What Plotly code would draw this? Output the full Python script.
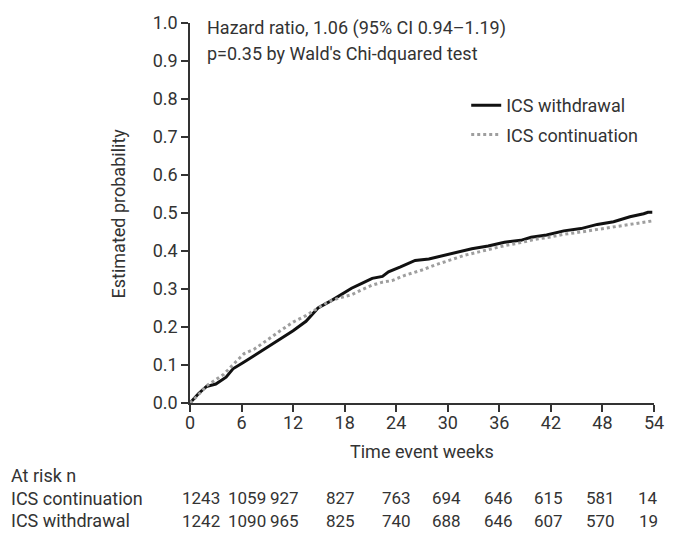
import plotly.graph_objects as go

# --- data ---
weeks_withdrawal = [0, 1.0, 1.9, 3.0, 4.2, 5.0, 6.3, 8.0, 9.2, 10.5, 12.0, 13.5, 14.9, 16.5, 17.8,
                    18.8, 20.0, 21.2, 22.4, 23.1, 24.5, 26.2, 27.8, 29.7, 31.2, 32.8, 34.7,
                    36.6, 38.5, 39.7, 41.5, 43.5, 45.5, 47.4, 49.3, 51.2, 52.8, 53.3, 53.8]
prob_withdrawal = [0, 0.025, 0.043, 0.050, 0.068, 0.090, 0.108, 0.132, 0.151, 0.168, 0.190, 0.215,
                   0.250, 0.270, 0.289, 0.302, 0.315, 0.328, 0.333, 0.345, 0.358, 0.375,
                   0.379, 0.389, 0.396, 0.406, 0.413, 0.423, 0.428, 0.436, 0.442, 0.453,
                   0.459, 0.470, 0.477, 0.490, 0.498, 0.502, 0.502]

weeks_continuation = [0, 1.0, 1.9, 3.9, 5.4, 6.3, 7.5, 9.2, 10.5, 12.0, 13.5, 14.9, 16.0, 17.3,
                      18.8, 20.0, 21.2, 22.4, 23.5, 25.0, 27.0, 28.5, 30.4, 32.0, 33.5, 35.0,
                      36.6, 38.5, 40.0, 42.0, 43.5, 45.5, 47.4, 49.5, 51.2, 53.0, 53.8]
prob_continuation = [0, 0.022, 0.045, 0.075, 0.110, 0.130, 0.142, 0.170, 0.190, 0.213, 0.230,
                     0.250, 0.265, 0.276, 0.285, 0.298, 0.310, 0.318, 0.322, 0.336, 0.350,
                     0.363, 0.378, 0.389, 0.397, 0.405, 0.414, 0.422, 0.430, 0.437, 0.444,
                     0.450, 0.457, 0.463, 0.469, 0.476, 0.479]

x_ticks = [0, 6, 12, 18, 24, 30, 36, 42, 48, 54]
y_ticks = [0.0, 0.1, 0.2, 0.3, 0.4, 0.5, 0.6, 0.7, 0.8, 0.9, 1.0]

risk_labels = ["ICS continuation", "ICS withdrawal"]
risk_continuation = ["1243", "1059", "927", "827", "763", "694", "646", "615", "581", "14"]
risk_withdrawal = ["1242", "1090", "965", "825", "740", "688", "646", "607", "570", "19"]

annotation_lines = ["Hazard ratio, 1.06 (95% CI 0.94\u20131.19)",
                    "p=0.35 by Wald's Chi-dquared test"]

# --- layout constants ---
W, H = 676, 538
ML, MR, MT, MB = 190, 19, 17, 135
FONT = "Roboto, DejaVu Sans, sans-serif"
TXT = "#333333"
FS = 18
FS_NUM = 17

fig = go.Figure()
fig.add_trace(go.Scatter(x=weeks_withdrawal, y=prob_withdrawal, mode="lines",
                         name="ICS withdrawal", legendgroup="a",
                         line=dict(color="#111111", width=3)))
fig.add_trace(go.Scatter(x=weeks_continuation, y=prob_continuation, mode="lines",
                         name="ICS continuation", legendgroup="b",
                         line=dict(color="#9e9e9e", width=3, dash="dot")))

def px_to_paper_x(px):
    return (px - ML) / (W - ML - MR)

def px_to_paper_y(py):
    return (H - MB - py) / (H - MT - MB)

annots = []
for i, t in enumerate(annotation_lines):
    annots.append(dict(text=t, xref="paper", yref="paper", x=px_to_paper_x(205),
                       y=px_to_paper_y(22 + 26 * i), xanchor="left", yanchor="middle",
                       showarrow=False, font=dict(family=FONT, size=FS, color=TXT)))

# axis titles
annots.append(dict(text="Time event weeks", xref="paper", yref="paper", x=0.5,
                   y=px_to_paper_y(452), xanchor="center", yanchor="middle",
                   showarrow=False, font=dict(family=FONT, size=FS, color=TXT)))
annots.append(dict(text="Estimated probability", xref="paper", yref="paper",
                   x=px_to_paper_x(118), y=px_to_paper_y(210), textangle=-90,
                   xanchor="center", yanchor="middle",
                   showarrow=False, font=dict(family=FONT, size=FS, color=TXT)))

# at-risk table
annots.append(dict(text="At risk n", xref="paper", yref="paper", x=px_to_paper_x(8),
                   y=px_to_paper_y(477), xanchor="left", yanchor="middle",
                   showarrow=False, font=dict(family=FONT, size=FS, color=TXT)))
col_centers = [201, 247, 285, 341, 398, 448, 500, 551, 603, 651]
for r, (lab, vals) in enumerate(zip(risk_labels, [risk_continuation, risk_withdrawal])):
    ypx = 500 + 22.5 * r
    annots.append(dict(text=lab, xref="paper", yref="paper", x=px_to_paper_x(8),
                       y=px_to_paper_y(ypx), xanchor="left", yanchor="middle",
                       showarrow=False, font=dict(family=FONT, size=FS, color=TXT)))
    for cx, v in zip(col_centers, vals):
        annots.append(dict(text=v, xref="paper", yref="paper", x=px_to_paper_x(cx),
                           y=px_to_paper_y(ypx), xanchor="center", yanchor="middle",
                           showarrow=False, font=dict(family=FONT, size=FS_NUM, color=TXT)))

fig.update_layout(
    width=W, height=H,
    margin=dict(l=ML, r=MR, t=MT, b=MB),
    paper_bgcolor="white", plot_bgcolor="white",
    font=dict(family=FONT, size=FS, color=TXT),
    annotations=annots,
    showlegend=True,
    legend=dict(x=px_to_paper_x(468), y=px_to_paper_y(82), xanchor="left", yanchor="top",
                bgcolor="rgba(0,0,0,0)", font=dict(family=FONT, size=FS, color=TXT),
                traceorder="grouped", tracegroupgap=3, itemwidth=30),
    xaxis=dict(range=[0, 54], tickvals=x_ticks, ticktext=[str(v) for v in x_ticks],
               showgrid=False, zeroline=False, showline=True, linecolor="#333333",
               linewidth=1.5, ticks="outside", ticklen=7, tickwidth=1.5,
               tickcolor="#333333", tickfont=dict(family=FONT, size=FS, color=TXT),
               ticklabelstandoff=-4, fixedrange=True),
    yaxis=dict(range=[0, 1], tickvals=y_ticks, ticktext=[f"{v:.1f}" for v in y_ticks],
               showgrid=False, zeroline=False, showline=True, linecolor="#333333",
               linewidth=1.5, ticks="outside", ticklen=7, tickwidth=1.5,
               tickcolor="#333333", tickfont=dict(family=FONT, size=FS, color=TXT),
               fixedrange=True),
)

fig.write_html("out.html")
